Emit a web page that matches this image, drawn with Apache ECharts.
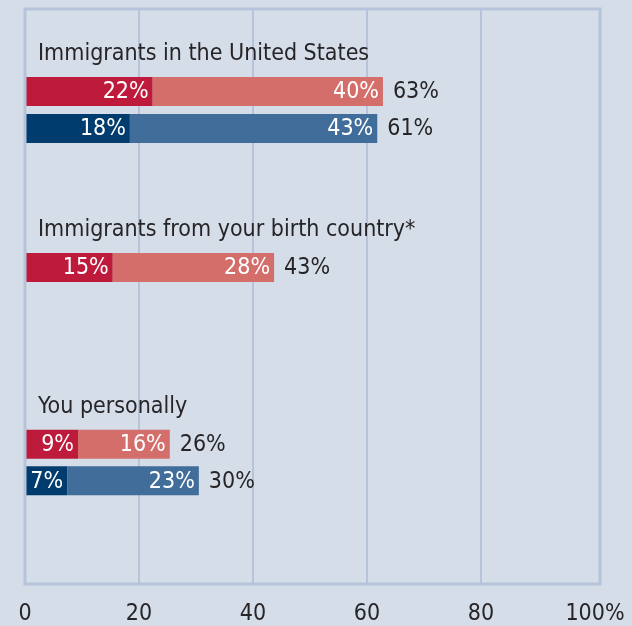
<!DOCTYPE html>
<html>
<head>
<meta charset="utf-8">
<script src="https://cdn.jsdelivr.net/npm/echarts@6/dist/echarts.min.js"></script>
<style>
  html, body { margin: 0; padding: 0; background: #d5dde9; }
  #chart { width: 632px; height: 626px; }
</style>
</head>
<body>
<div id="chart"></div>
<script>
// group titles and which group each bar row belongs to
const groupTitles = ['Immigrants in the United States', 'Immigrants from your birth country*', 'You personally']
const rowGroup = [0, 0, 1, 2, 2]
const rowColor = ['red', 'blue', 'red', 'red', 'blue']
const firstVals = [22.4, 18.4, 15.4, 9.3, 7.4]
const secondVals = [40.4, 43.4, 28.3, 16.1, 23.1]
const firstLabels = ['22%', '18%', '15%', '9%', '7%']
const secondLabels = ['40%', '43%', '28%', '16%', '23%']
const totalLabels = ['63%', '61%', '43%', '26%', '30%']
const xTicks = [0, 20, 40, 60, 80, 100]

const FONT = '"DejaVu Sans Condensed", "Liberation Sans Narrow", sans-serif'
const palette = {
  red: ['#be1a3b', '#d46e6b'],
  blue: ['#003c6e', '#406d9a']
}
const textColor = '#262426'
const lineColor = '#b5c4da'

// pixel layout of each group's band (top, height)
const groupBands = [[73, 74], [249, 37], [426, 73]]
const titleTops = [43, 219, 396]

const chart = echarts.init(document.getElementById('chart'))

const grids = [{ left: 25, top: 9, width: 570, height: 575 }]
const xAxes = [{
  gridIndex: 0,
  type: 'value',
  min: xTicks[0],
  max: xTicks[xTicks.length - 1],
  interval: 20,
  axisLine: { show: false },
  axisTick: { show: false },
  // the 100 line is covered by the frame, so leave it out
  splitLine: { lineStyle: { color: xTicks.map((t, i) => i === xTicks.length - 1 ? 'transparent' : lineColor), width: 2 } },
  axisLabel: {
    color: textColor,
    fontFamily: FONT,
    fontSize: 23,
    margin: 20,
    formatter: v => v === 100 ? '100%' : String(v)
  }
}]
const yAxes = [{ gridIndex: 0, type: 'category', data: [''], show: false }]
const series = []

groupBands.forEach((band, g) => {
  const rows = rowGroup.map((gr, i) => gr === g ? i : -1).filter(i => i >= 0)
  const gi = g + 1
  grids.push({ left: 25, top: band[0], width: 570, height: band[1] })
  xAxes.push({ gridIndex: gi, type: 'value', min: 0, max: 100, show: false })
  yAxes.push({ gridIndex: gi, type: 'category', inverse: true, show: false, data: rows.map(i => 'r' + i) })
  const common = {
    type: 'bar',
    xAxisIndex: gi,
    yAxisIndex: gi,
    stack: 'g' + g,
    barWidth: 29,
    silent: true
  }
  const lbl = {
    show: true,
    fontFamily: FONT,
    fontSize: 23,
    offset: [0, 1]
  }
  series.push({
    ...common,
    data: rows.map(i => ({ value: firstVals[i], itemStyle: { color: palette[rowColor[i]][0] } })),
    label: {
      ...lbl,
      position: 'insideRight',
      distance: 4,
      color: '#fff',
      formatter: p => firstLabels[rows[p.dataIndex]]
    }
  })
  series.push({
    ...common,
    data: rows.map(i => ({ value: secondVals[i], itemStyle: { color: palette[rowColor[i]][1] } })),
    label: {
      ...lbl,
      position: 'insideRight',
      distance: 4,
      color: '#fff',
      formatter: p => secondLabels[rows[p.dataIndex]]
    }
  })
  // zero-width segment that only carries the total label
  series.push({
    ...common,
    data: rows.map(() => 0),
    itemStyle: { color: 'transparent' },
    label: {
      ...lbl,
      position: 'right',
      distance: 10,
      color: textColor,
      formatter: p => totalLabels[rows[p.dataIndex]]
    }
  })
})

const option = {
  backgroundColor: '#d5dde9',
  animation: false,
  grid: grids,
  xAxis: xAxes,
  yAxis: yAxes,
  series: series,
  graphic: [
    {
      type: 'rect',
      shape: { x: 25, y: 9, width: 575, height: 575 },
      style: { fill: 'none', stroke: lineColor, lineWidth: 3 },
      z: 10
    },
    ...groupTitles.map((t, g) => ({
      type: 'text',
      left: 38,
      top: titleTops[g],
      z: 100,
      style: { text: t, fill: textColor, font: '23px ' + FONT }
    }))
  ]
}
chart.setOption(option)
</script>
</body>
</html>
